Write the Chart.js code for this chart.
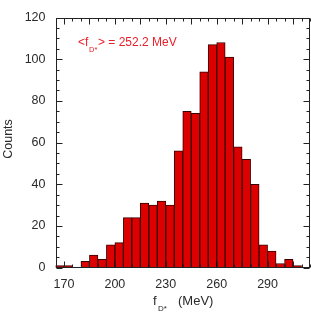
<!DOCTYPE html>
<html><head><meta charset="utf-8">
<script src="https://cdn.jsdelivr.net/npm/chart.js@4/dist/chart.umd.min.js"></script>
<style>html,body{margin:0;padding:0;background:#fff;}#wrap{width:311px;height:313px;}</style>
</head><body><div id="wrap"><canvas id="c" width="311" height="313"></canvas></div>
<script>
// Histogram bins (MeV, lower edge) and counts
const binStarts = [165,170,175,180,185,190,195,200,205,210,215,220,225,230,235,240,245,250,255,260,265,270,275,280,285,290,295,300,305];
const counts    = [1,1,0,3,6,4,11,12,24,24,31,30,32,30,56,75,74,94,107,108,101,58,52,40,11,8,2,4,1];
const binWidth = 5;
const xTickLabels = [170,200,230,260,290];
const yTickLabels = [0,20,40,60,80,100,120];
const xMajorTicks = [170,185,200,215,230,245,260,275,290,305];
const yTitle = 'Counts';
const xTitleMain = 'f', xTitleSub = 'D*', xTitleUnit = '(MeV)';
const meanValueText = '> = 252.2 MeV';

const FONT = '"Liberation Sans", Arial, sans-serif';

const framePlugin = {
  id: 'frame',
  afterDatasetsDraw(chart) {
    const {ctx, chartArea: a, scales: {x, y}} = chart;
    ctx.save();
    ctx.strokeStyle = '#222';
    ctx.lineWidth = 1;
    const L = Math.round(a.left) + 0.5, R = Math.round(a.right) - 0.5;
    const T = Math.round(a.top) + 0.5, B = Math.round(a.bottom) - 0.5;
    ctx.strokeRect(L, T, R - L, B - T);
    ctx.beginPath();
    for (let v = x.min; v <= x.max; v += 5) {
      const px = Math.round(x.getPixelForValue(v)) + 0.5;
      const len = xMajorTicks.includes(v) ? 6 : 3;
      ctx.moveTo(px, B); ctx.lineTo(px, B - len);
      ctx.moveTo(px, T); ctx.lineTo(px, T + len);
    }
    for (let v = y.min; v <= y.max; v += 5) {
      const py = Math.round(y.getPixelForValue(v)) + 0.5;
      const len = (v % 20 === 0) ? 6 : 3;
      ctx.moveTo(L, py); ctx.lineTo(L + len, py);
      ctx.moveTo(R, py); ctx.lineTo(R - len, py);
    }
    ctx.stroke();

    ctx.fillStyle = '#2a2a2a';
    ctx.font = '12.5px ' + FONT;
    ctx.textBaseline = 'middle';
    ctx.save();
    ctx.translate(9, 139);
    ctx.rotate(-Math.PI / 2);
    ctx.textAlign = 'center';
    ctx.fillText(yTitle, 0, 0);
    ctx.restore();

    ctx.textAlign = 'left';
    ctx.font = '13px ' + FONT;
    ctx.fillText(xTitleMain, 153, 301);
    ctx.font = '8px ' + FONT;
    ctx.fillText(xTitleSub, 158, 309);
    ctx.font = '13px ' + FONT;
    ctx.fillText(xTitleUnit, 178, 301);

    ctx.fillStyle = '#e8202a';
    ctx.font = '12px ' + FONT;
    ctx.fillText('<f', 78, 43);
    ctx.font = '7.5px ' + FONT;
    ctx.fillText(xTitleSub, 89, 50);
    ctx.font = '12px ' + FONT;
    ctx.fillText(meanValueText, 98, 43);
    ctx.restore();
  }
};

new Chart(document.getElementById('c'), {
  type: 'bar',
  data: {
    datasets: [{
      data: counts.map((c, i) => ({x: binStarts[i] + binWidth / 2, y: c})),
      backgroundColor: '#dc0000',
      borderColor: '#3a0000',
      borderWidth: 1,
      borderSkipped: 'start',
      barPercentage: 1,
      categoryPercentage: 1,
      grouped: false
    }]
  },
  options: {
    responsive: false,
    animation: false,
    devicePixelRatio: 1,
    layout: {padding: {top: 5, right: 1, left: 0, bottom: 0}},
    plugins: {legend: {display: false}, tooltip: {enabled: false}},
    scales: {
      x: {
        type: 'linear', min: 165, max: 315, offset: false,
        grid: {display: false, drawTicks: false}, border: {display: false},
        afterBuildTicks: s => { s.ticks = xTickLabels.map(v => ({value: v})); },
        afterFit: s => { s.height = 45.3; },
        ticks: {padding: 9, color: '#2a2a2a', maxRotation: 0, autoSkip: false,
                font: {family: FONT, size: 12.5}}
      },
      y: {
        min: 0, max: 120,
        grid: {display: false, drawTicks: false}, border: {display: false},
        afterBuildTicks: s => { s.ticks = yTickLabels.map(v => ({value: v})); },
        afterFit: s => { s.width = 55.5; },
        ticks: {padding: 10, color: '#2a2a2a', font: {family: FONT, size: 12.5}}
      }
    }
  },
  plugins: [framePlugin]
});
</script></body></html>
